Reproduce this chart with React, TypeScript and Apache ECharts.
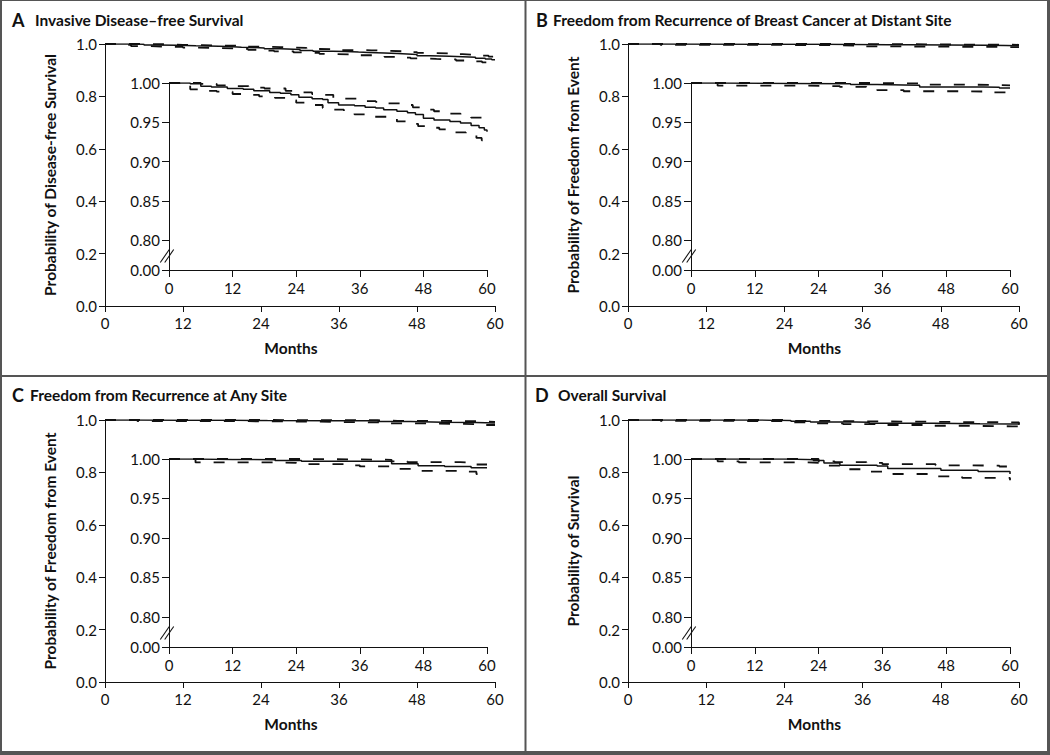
import React, { useEffect, useRef } from 'react';
import * as echarts from 'echarts';

// ---------- Data ----------
const monthTicks = [0, 12, 24, 36, 48, 60];
const mainYTicks = [0, 0.2, 0.4, 0.6, 0.8, 1.0];
const insetYTicks = [0.7618, 0.8, 0.85, 0.9, 0.95, 1.0]; // first value is shown as "0.00" (broken axis)

// Panel A – Invasive disease-free survival
const aEstMonths = [0, 4, 6, 8, 11, 14, 16, 19, 21, 23, 24.5, 27, 29, 30, 32, 35, 37, 39, 40.5, 43, 45, 46.5, 48, 50, 53, 55, 57, 58.5, 59.5, 60];
const aEst = [1.0, 0.999, 0.996, 0.995, 0.993, 0.992, 0.99, 0.988, 0.987, 0.985, 0.982, 0.98, 0.979, 0.975, 0.972, 0.971, 0.969, 0.968, 0.966, 0.964, 0.962, 0.96, 0.955, 0.953, 0.951, 0.949, 0.946, 0.943, 0.94, 0.938];
const aUpMonths = [0, 6, 9, 12, 15, 18, 22, 24, 27, 29, 31, 33, 36, 39, 41, 44, 46, 48, 50, 53, 55, 57, 59, 60];
const aUp = [1.0, 0.999, 0.997, 0.996, 0.994, 0.993, 0.99, 0.988, 0.986, 0.985, 0.981, 0.98, 0.977, 0.976, 0.974, 0.972, 0.969, 0.966, 0.964, 0.961, 0.959, 0.956, 0.952, 0.951];
const aLoMonths = [0, 2, 4, 7, 9, 12, 14, 17, 20, 22, 24, 26, 29, 30, 33, 35, 38, 41, 43, 45, 47, 49, 51, 54, 56, 58, 59, 60];
const aLo = [1.0, 0.997, 0.992, 0.99, 0.989, 0.986, 0.985, 0.983, 0.981, 0.978, 0.975, 0.972, 0.968, 0.966, 0.962, 0.96, 0.957, 0.955, 0.951, 0.948, 0.945, 0.943, 0.941, 0.937, 0.934, 0.93, 0.927, 0.924];

// Panel B – Freedom from recurrence at distant site
const bEstMonths = [0, 5, 20, 30, 35, 40, 43, 55, 58, 60];
const bEst = [1.0, 0.9995, 0.999, 0.998, 0.9975, 0.997, 0.995, 0.9945, 0.9935, 0.993];
const bUpMonths = [0, 30, 35, 43, 50, 58, 60];
const bUp = [1.0, 1.0, 0.9995, 0.998, 0.9975, 0.997, 0.9965];
const bLoMonths = [0, 5, 22, 28, 33, 35, 40, 50, 57, 60];
const bLo = [1.0, 0.9966, 0.996, 0.995, 0.994, 0.991, 0.9895, 0.989, 0.988, 0.987];

// Panel C – Freedom from recurrence at any site
const cEstMonths = [0, 5, 12, 20, 25, 35, 42, 47, 52, 57, 60];
const cEst = [1.0, 0.9995, 0.999, 0.998, 0.997, 0.997, 0.994, 0.9915, 0.9905, 0.989, 0.9885];
const cUpMonths = [0, 25, 35, 42, 45, 55, 58, 60];
const cUp = [1.0, 0.9995, 0.999, 0.997, 0.996, 0.9955, 0.993, 0.993];
const cLoMonths = [0, 5, 20, 24, 33, 36, 43, 47, 55, 58, 60];
const cLo = [1.0, 0.9957, 0.995, 0.9936, 0.992, 0.9906, 0.9875, 0.985, 0.984, 0.981, 0.9805];

// Panel D – Overall survival
const dEstMonths = [0, 18, 22, 23, 25, 28, 35, 37, 47, 54, 59, 60];
const dEst = [1.0, 0.9995, 0.999, 0.998, 0.995, 0.992, 0.991, 0.988, 0.9856, 0.9843, 0.9843, 0.981];
const dUpMonths = [0, 22, 24, 27, 33, 36, 46, 52, 58, 60];
const dUp = [1.0, 1.0, 0.997, 0.996, 0.995, 0.9935, 0.992, 0.9915, 0.9905, 0.985];
const dLoMonths = [0, 5, 9, 22, 25, 29, 33, 38, 46, 51, 59, 60];
const dLo = [1.0, 0.997, 0.9958, 0.995, 0.9915, 0.987, 0.984, 0.981, 0.978, 0.976, 0.976, 0.973];

const panelLetters = ['A', 'B', 'C', 'D'];
const panelTitles = [
  'Invasive Disease\u2013free Survival',
  'Freedom from Recurrence of Breast Cancer at Distant Site',
  'Freedom from Recurrence at Any Site',
  'Overall Survival',
];
const yAxisNames = [
  'Probability of Disease-free Survival',
  'Probability of Freedom from Event',
  'Probability of Freedom from Event',
  'Probability of Survival',
];
const xAxisName = 'Months';

const curves = [
  { est: [aEstMonths, aEst], up: [aUpMonths, aUp], lo: [aLoMonths, aLo] },
  { est: [bEstMonths, bEst], up: [bUpMonths, bUp], lo: [bLoMonths, bLo] },
  { est: [cEstMonths, cEst], up: [cUpMonths, cUp], lo: [cLoMonths, cLo] },
  { est: [dEstMonths, dEst], up: [dUpMonths, dUp], lo: [dLoMonths, dLo] },
];

// ---------- Layout ----------
const layouts = [
  { letterX: 12, titleX: 35, titleY: 20, main: { left: 105, top: 44, width: 390, height: 262 }, inset: { left: 169, top: 83, width: 318, height: 187 } },
  { letterX: 536, titleX: 553, titleY: 20, main: { left: 628, top: 44, width: 391, height: 262 }, inset: { left: 691, top: 83, width: 319, height: 187 } },
  { letterX: 12, titleX: 30, titleY: 395, main: { left: 105, top: 420, width: 390, height: 262 }, inset: { left: 169, top: 459, width: 318, height: 188 } },
  { letterX: 535, titleX: 558, titleY: 395, main: { left: 628, top: 420, width: 391, height: 262 }, inset: { left: 691, top: 459, width: 319, height: 188 } },
];

const FONT = 'Lato';
const INK = '#111';

function buildOption() {
  const grid: any[] = [];
  const xAxis: any[] = [];
  const yAxis: any[] = [];
  const series: any[] = [];
  const graphic: any[] = [];

  const axisLine = { show: true, lineStyle: { color: INK, width: 1 } };
  const labelStyle = { fontFamily: FONT, fontSize: 15, color: '#111' };
  const nameStyle = { fontFamily: FONT, fontSize: 15.5, fontWeight: 'bold', color: '#111' };

  layouts.forEach((L, p) => {
    grid.push({ ...L.main, containLabel: false });
    grid.push({ ...L.inset, containLabel: false });
    const gMain = 2 * p;
    const gInset = 2 * p + 1;

    xAxis.push({
      type: 'value', gridIndex: gMain, min: 0, max: 60, interval: 12,
      axisLine, axisTick: { show: true, length: 6, lineStyle: { color: INK } },
      axisLabel: { ...labelStyle, margin: 9, customValues: monthTicks },
      splitLine: { show: false },
      name: xAxisName, nameLocation: 'middle', nameGap: 34,
      nameTextStyle: { ...nameStyle, padding: [0, 18, 0, 0] },
    });
    yAxis.push({
      type: 'value', gridIndex: gMain, min: 0, max: 1, interval: 0.2,
      axisLine, axisTick: { show: true, length: 6, lineStyle: { color: INK } },
      axisLabel: { ...labelStyle, margin: 8, customValues: mainYTicks, formatter: (v: number) => v.toFixed(1) },
      splitLine: { show: false },
      name: yAxisNames[p], nameLocation: 'middle', nameGap: 47,
      nameTextStyle: nameStyle,
    });
    xAxis.push({
      type: 'value', gridIndex: gInset, min: 0, max: 60, interval: 12,
      axisLine, axisTick: { show: true, length: 7, lineStyle: { color: INK } },
      axisLabel: { ...labelStyle, margin: 10, customValues: monthTicks },
      splitLine: { show: false },
    });
    yAxis.push({
      type: 'value', gridIndex: gInset, min: insetYTicks[0], max: 1,
      axisLine, axisTick: { show: true, length: 7, customValues: insetYTicks, lineStyle: { color: INK } },
      axisLabel: {
        ...labelStyle, margin: 9, customValues: insetYTicks,
        formatter: (v: number) => (v < 0.79 ? '0.00' : v.toFixed(2)),
      },
      splitLine: { show: false },
    });

    const c = curves[p];
    (['est', 'up', 'lo'] as const).forEach((k) => {
      const [ms, vs] = (c as any)[k] as number[][];
      const data = ms.map((m, i) => [m, vs[i]]);
      const lineStyle = k === 'est'
        ? { color: INK, width: 1.5, type: 'solid' }
        : { color: INK, width: 1.8, type: [11, 13] };
      [gMain, gInset].forEach((g) => {
        series.push({
          type: 'line', xAxisIndex: g, yAxisIndex: g, data, step: 'end',
          symbol: 'none', showSymbol: false, silent: true, lineStyle, z: k === 'est' ? 3 : 2,
        });
      });
    });

    // titles
    graphic.push({
      type: 'text', x: L.letterX, y: L.titleY,
      style: { text: panelLetters[p], fontFamily: FONT, fontSize: 18, fontWeight: 'bold', fill: '#111', verticalAlign: 'middle' },
    });
    graphic.push({
      type: 'text', x: L.titleX, y: L.titleY,
      style: { text: panelTitles[p], fontFamily: FONT, fontSize: 15.5, fontWeight: 'bold', fill: '#111', verticalAlign: 'middle' },
    });
    // axis break marks on inset y axis
    const bx = L.inset.left - 2;
    const by = L.inset.top + L.inset.height - 14;
    [-2.2, 2.2].forEach((dx) => {
      graphic.push({
        type: 'line', silent: true,
        shape: { x1: bx + dx - 4.5, y1: by + 6.5, x2: bx + dx + 4.5, y2: by - 6.5 },
        style: { stroke: INK, lineWidth: 1.1 },
      });
    });
  });

  // frame and dividers
  const frame = '#555';
  [
    { x: 0, y: 0, width: 2, height: 755 },
    { x: 0, y: 0, width: 1050, height: 1 },
    { x: 1047, y: 0, width: 3, height: 755 },
    { x: 0, y: 751, width: 1050, height: 4 },
    { x: 524.5, y: 0, width: 2, height: 755 },
    { x: 0, y: 375, width: 1050, height: 2 },
  ].forEach((r) => graphic.push({ type: 'rect', silent: true, shape: r, style: { fill: frame } }));

  return {
    animation: false,
    backgroundColor: '#fff',
    textStyle: { fontFamily: FONT },
    grid, xAxis, yAxis, series, graphic,
  };
}

export default function App() {
  const ref = useRef<HTMLDivElement>(null);
  useEffect(() => {
    document.body.style.margin = '0';
    const chart = echarts.init(ref.current!, null, { renderer: 'svg' });
    chart.setOption(buildOption() as any);
    return () => chart.dispose();
  }, []);
  return <div ref={ref} style={{ width: 1050, height: 755 }} />;
}
